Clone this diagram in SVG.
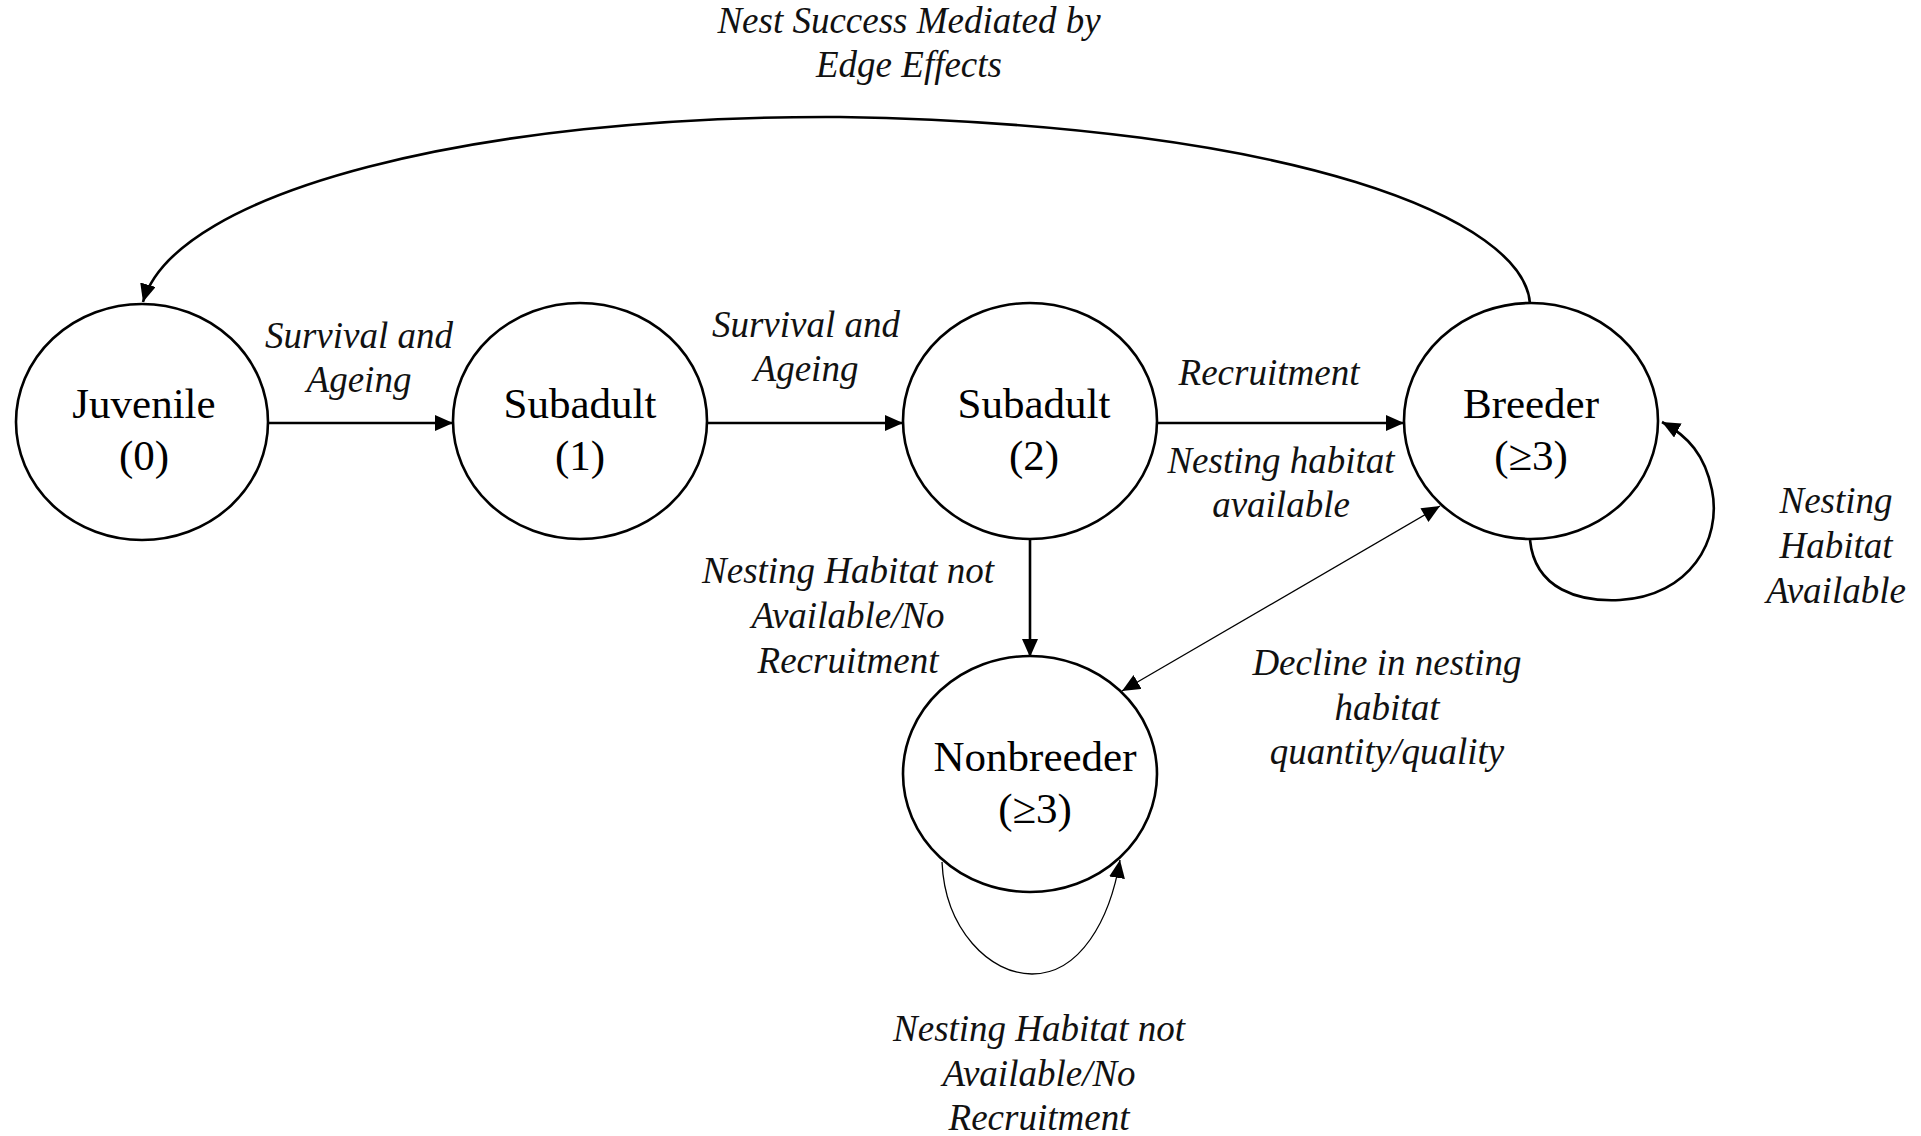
<svg xmlns="http://www.w3.org/2000/svg" width="1921" height="1136" viewBox="0 0 1921 1136">
<style>
.node{fill:#fff;stroke:#000;stroke-width:2.6}
.nt{font-family:"Liberation Serif","Times New Roman",serif;font-size:43px;fill:#000;text-anchor:middle}
.lb{font-family:"Liberation Serif","Times New Roman",serif;font-size:37px;font-style:italic;fill:#111;text-anchor:middle}
.c{fill:none;stroke:#000;stroke-width:2.6}
.t{fill:none;stroke:#000;stroke-width:1.3}
</style>
<defs>
<marker id="ah" markerUnits="userSpaceOnUse" markerWidth="20" markerHeight="18" refX="18" refY="8" orient="auto">
<path d="M0,0 L18,8 L0,16 z" fill="#000"/>
</marker>
<marker id="ahs" markerUnits="userSpaceOnUse" markerWidth="20" markerHeight="18" refX="0" refY="8" orient="auto">
<path d="M18,0 L0,8 L18,16 z" fill="#000"/>
</marker>
</defs>
<rect width="1921" height="1136" fill="#fff"/>
<g id="connectors">
<path class="c" d="M1530,304 C1525,220 1300,125 840,117 C480,115 175,190 143,302" marker-end="url(#ah)"/>
<line class="c" x1="269" y1="423" x2="453" y2="423" marker-end="url(#ah)"/>
<line class="c" x1="707" y1="423" x2="903" y2="423" marker-end="url(#ah)"/>
<line class="c" x1="1157" y1="423" x2="1404" y2="423" marker-end="url(#ah)"/>
<line class="c" x1="1030" y1="540" x2="1030" y2="657" marker-end="url(#ah)"/>
<line class="t" x1="1440" y1="506" x2="1122" y2="691" marker-start="url(#ahs)" marker-end="url(#ah)"/>
<path class="c" d="M1530,540 C1535,590 1580,602 1620,600 C1690,596 1722,540 1712,490 C1705,455 1688,436 1662,422" marker-end="url(#ah)"/>
<path class="t" d="M942,862 C945,930 990,974 1032,974 C1080,974 1110,920 1120,860" marker-end="url(#ah)"/>
</g>
<g id="juvenile">
<ellipse class="node" cx="142" cy="422" rx="126" ry="118"/>
<text class="nt" x="144" y="418">Juvenile</text>
<text class="nt" x="144" y="470">(0)</text>
</g>
<g id="subadult1">
<ellipse class="node" cx="580" cy="421" rx="127" ry="118"/>
<text class="nt" x="580" y="418">Subadult</text>
<text class="nt" x="580" y="470">(1)</text>
</g>
<g id="subadult2">
<ellipse class="node" cx="1030" cy="421" rx="127" ry="118"/>
<text class="nt" x="1034" y="418">Subadult</text>
<text class="nt" x="1034" y="470">(2)</text>
</g>
<g id="breeder">
<ellipse class="node" cx="1531" cy="421" rx="127" ry="118"/>
<text class="nt" x="1531" y="418">Breeder</text>
<text class="nt" x="1531" y="470">(≥3)</text>
</g>
<g id="nonbreeder">
<ellipse class="node" cx="1030" cy="774" rx="127" ry="118"/>
<text class="nt" x="1035" y="771">Nonbreeder</text>
<text class="nt" x="1035" y="823">(≥3)</text>
</g>
<g id="labels">
<text class="lb" x="909" y="33">Nest Success Mediated by</text>
<text class="lb" x="909" y="77">Edge Effects</text>
<text class="lb" x="359" y="348">Survival and</text>
<text class="lb" x="359" y="392">Ageing</text>
<text class="lb" x="806" y="337">Survival and</text>
<text class="lb" x="806" y="381">Ageing</text>
<text class="lb" x="1269" y="385">Recruitment</text>
<text class="lb" x="1281" y="473">Nesting habitat</text>
<text class="lb" x="1281" y="517">available</text>
<text class="lb" x="1836" y="513">Nesting</text>
<text class="lb" x="1836" y="558">Habitat</text>
<text class="lb" x="1836" y="603">Available</text>
<text class="lb" x="848" y="583">Nesting Habitat not</text>
<text class="lb" x="848" y="628">Available/No</text>
<text class="lb" x="848" y="673">Recruitment</text>
<text class="lb" x="1387" y="675">Decline in nesting</text>
<text class="lb" x="1387" y="720">habitat</text>
<text class="lb" x="1387" y="764">quantity/quality</text>
<text class="lb" x="1039" y="1041">Nesting Habitat not</text>
<text class="lb" x="1039" y="1086">Available/No</text>
<text class="lb" x="1039" y="1130">Recruitment</text>
</g>
</svg>
